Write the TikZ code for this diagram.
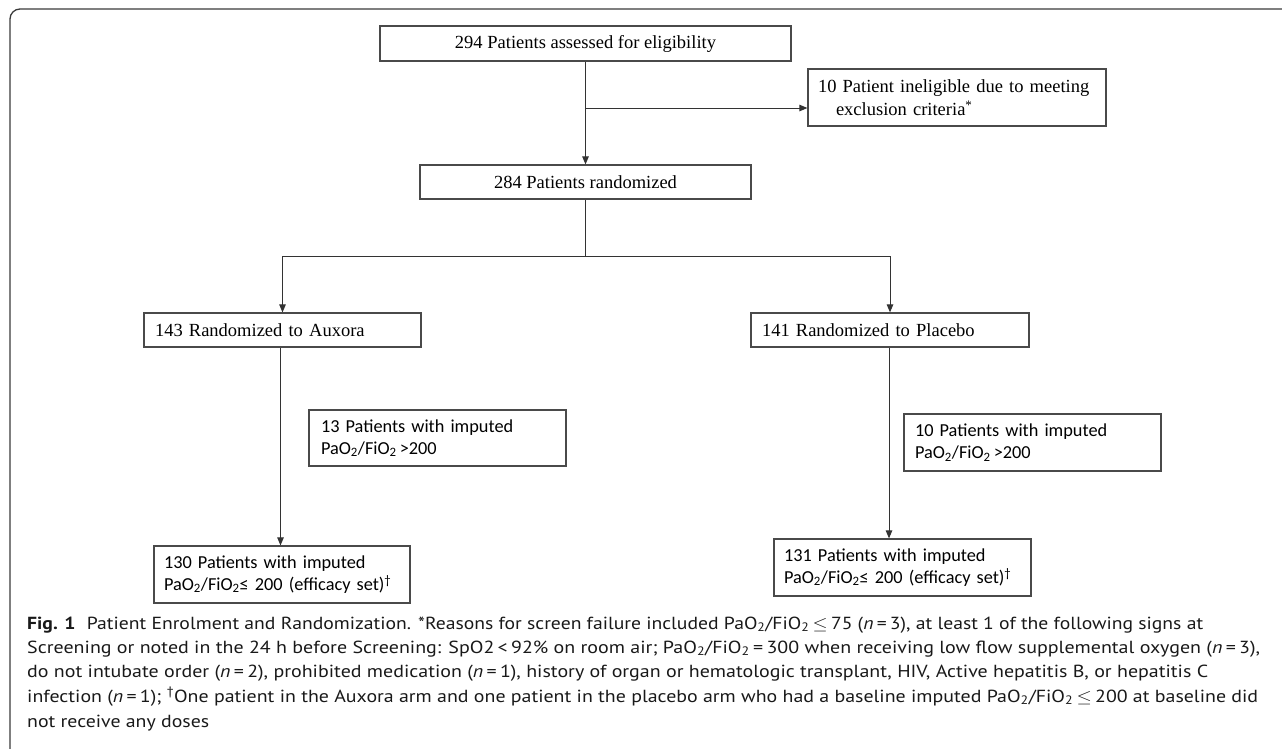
\documentclass[tikz,border=0pt]{standalone}
\usepackage{fontspec}
\usepackage{graphicx}
\setmainfont{Liberation Serif}
\newfontfamily\calfont{Carlito}
\newfontfamily\capfont{PT Sans}
\usetikzlibrary{arrows.meta}
\definecolor{boxgray}{HTML}{4A4A4A}
\definecolor{linegray}{HTML}{333333}
\definecolor{framegray}{HTML}{3A3A3A}
\newcommand{\pao}{PaO\textsubscript{2}/FiO\textsubscript{2}}
\newlength\capw
\newcommand{\fitline}[2]{\settowidth\capw{#2}\scalebox{\fpeval{#1pt/\capw}}[1]{#2}}
\begin{document}
\begin{tikzpicture}[x=1pt,y=-1pt,
  box/.style={draw=boxgray, line width=1.2pt, inner sep=0pt, fill=white},
  serbox/.style={box, font=\fontsize{18.5}{23}\selectfont},
  calbox/.style={box, font=\calfont\fontsize{18.3}{22}\selectfont, align=left},
  arr/.style={-{Triangle[length=8pt,width=6.5pt]}, line width=1pt, draw=linegray},
  conn/.style={line width=1pt, draw=linegray},
  capline/.style={anchor=base west, inner sep=0pt, font=\capfont\fontsize{17.5}{24}\selectfont, text=black!90}]
\useasboundingbox (0,0) rectangle (1282,748);
\begin{scope}
\clip (0,0) rectangle (1282,748);
\draw[framegray, line width=1.3pt, rounded corners=10pt] (10,760) -- (10,9) -- (1300,9);
\end{scope}

% boxes
\node[serbox, minimum width=411pt, minimum height=35pt] (A) at (585.5,43.5) {294 Patients assessed for eligibility};
\node[serbox, minimum width=298pt, minimum height=57pt, text width=278pt, align=left] (B) at (957,97.5)
  {10 Patient ineligible due to meeting\\\hspace*{18pt}exclusion criteria\textsuperscript{*}};
\node[serbox, minimum width=331pt, minimum height=34pt] (C) at (585.5,182) {284 Patients randomized};
\node[serbox, minimum width=277pt, minimum height=34pt, text width=255pt, align=left] (D) at (282.5,330) {143 Randomized to Auxora};
\node[serbox, minimum width=278pt, minimum height=34pt, text width=256pt, align=left] (E) at (890,330) {141 Randomized to Placebo};
\node[calbox, minimum width=257pt, minimum height=56pt, text width=233pt] (F) at (437.5,438)
  {13 Patients with imputed\\\pao\,>200};
\node[calbox, minimum width=257pt, minimum height=57pt, text width=235pt] (G) at (1032.5,442.5)
  {10 Patients with imputed\\\pao\,>200};
\node[calbox, minimum width=256pt, minimum height=57pt, text width=236pt] (H) at (282,574.5)
  {130 Patients with imputed\\\pao≤ 200 (efficacy set)\textsuperscript{†}};
\node[calbox, minimum width=257pt, minimum height=57pt, text width=237pt] (I) at (902.5,567.5)
  {131 Patients with imputed\\\pao≤ 200 (efficacy set)\textsuperscript{†}};

% connectors
\coordinate (j1) at (585.5,108);
\coordinate (s) at (585.5,256);
\draw[arr] (A.south) -- (C.north);
\draw[arr] (j1) -- (j1 -| B.west);
\draw[conn] (C.south) -- (s);
\draw[arr] (s) -| (D.north);
\draw[arr] (s) -| (E.north);
\draw[arr] (D.south) ++(-2,0) coordinate (dl) -- (dl |- H.north);
\draw[arr] (E.south) ++(-1,0) coordinate (el) -- (el |- I.north);

% caption
\node[capline] (cap1) at (27,629) {\fitline{1176}{\textbf{Fig. 1}\hspace{10pt}Patient Enrolment and Randomization. *Reasons for screen failure included \pao\,$\leq$\,75 (\textit{n}\,=\,3), at least 1 of the following signs at}};
\node[capline] (cap2) at (27,653) {\fitline{1233}{Screening or noted in the 24 h before Screening: SpO2\,<\,92\% on room air; \pao\,=\,300 when receiving low flow supplemental oxygen (\textit{n}\,=\,3),}};
\node[capline] (cap3) at (27,677) {\fitline{1181}{do not intubate order (\textit{n}\,=\,2), prohibited medication (\textit{n}\,=\,1), history of organ or hematologic transplant, HIV, Active hepatitis B, or hepatitis C}};
\node[capline] (cap4) at (27,702) {\fitline{1231}{infection (\textit{n}\,=\,1); \textsuperscript{†}One patient in the Auxora arm and one patient in the placebo arm who had a baseline imputed \pao\,$\leq$\,200 at baseline did}};
\node[capline] (cap5) at (27,727) {\fitline{182}{not receive any doses}};
\end{tikzpicture}
\end{document}
